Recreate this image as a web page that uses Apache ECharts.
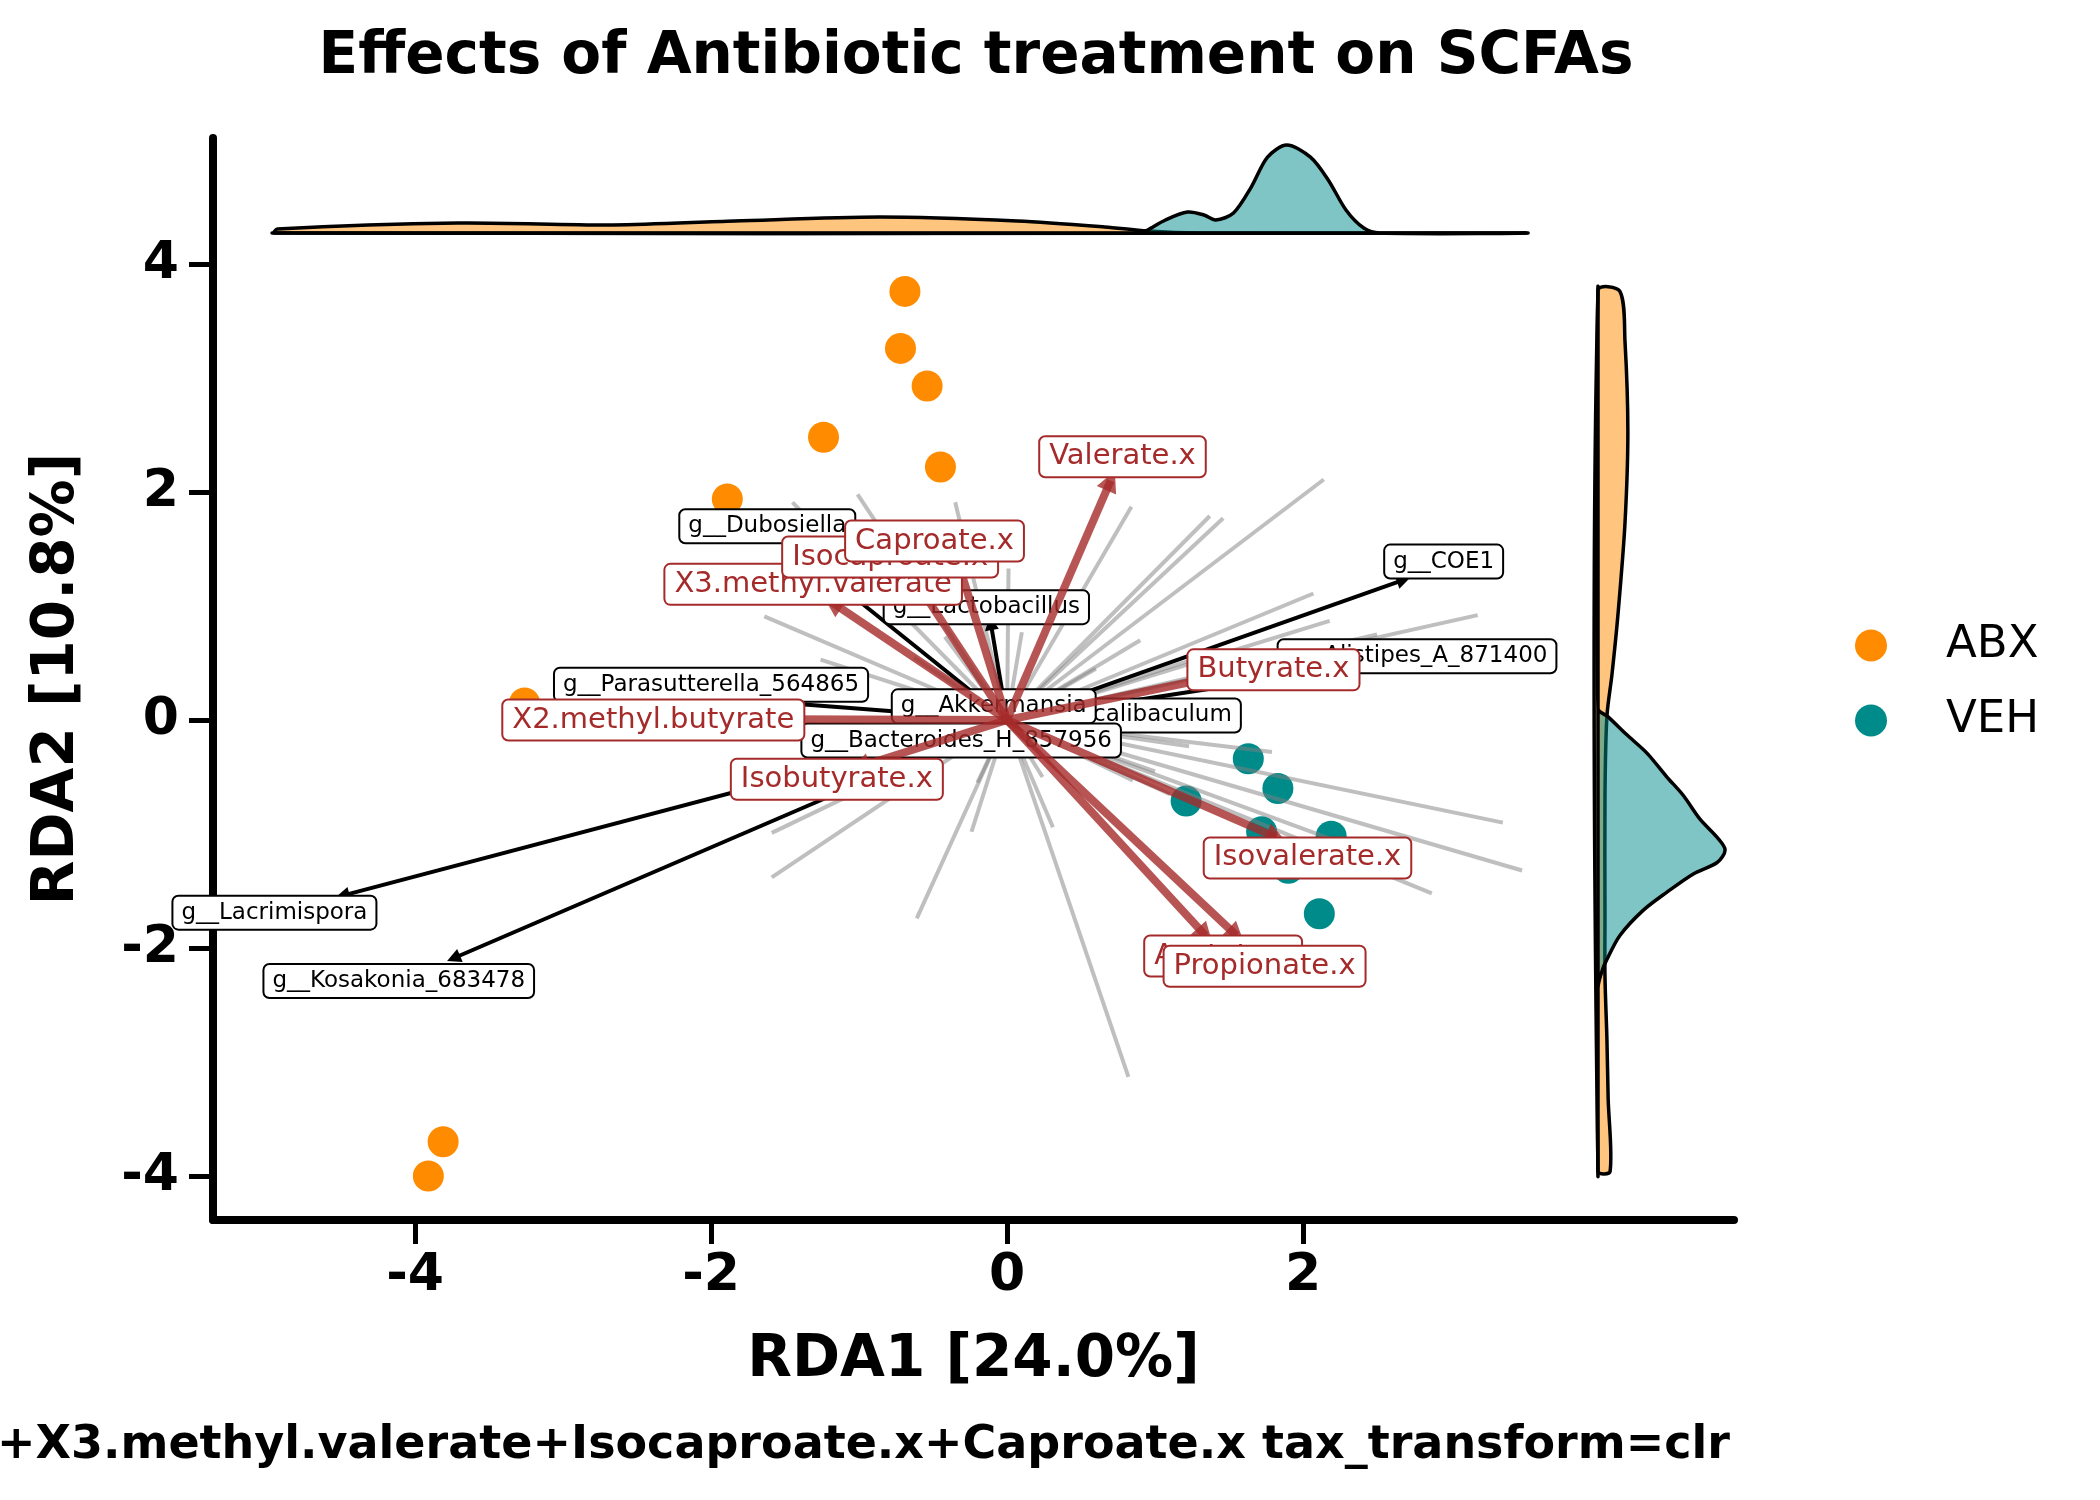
<!DOCTYPE html>
<html>
<head>
<meta charset="utf-8">
<script src="https://cdn.jsdelivr.net/npm/echarts/dist/echarts.min.js"></script>
<style>
  html, body { margin: 0; padding: 0; background: #fff; }
  #chart { width: 2100px; height: 1500px; }
</style>
</head>
<body>
<div id="chart"></div>
<script>
// sample scores (RDA1, RDA2)
var abxPoints = [[-0.69, 3.76], [-0.72, 3.26], [-0.54, 2.93], [-1.24, 2.48], [-0.45, 2.22],
  [-1.89, 1.94], [-3.26, 0.15], [-3.81, -3.70], [-3.91, -4.00]];
var vehPoints = [[1.63, -0.34], [1.83, -0.60], [1.21, -0.71], [1.72, -0.98], [2.19, -1.02],
  [1.90, -1.30], [2.11, -1.70]];

// SCFA (constraint) arrows
var scfaNames = ['Acetate.x', 'Propionate.x', 'Butyrate.x', 'Isobutyrate.x', 'Valerate.x',
  'Isovalerate.x', 'X2.methyl.butyrate', 'X3.methyl.valerate', 'Isocaproate.x', 'Caproate.x'];
var scfaTips = [[1.34, -1.89], [1.55, -1.89], [1.60, 0.43], [-1.00, -0.41], [0.70, 2.10],
  [1.82, -1.03], [-2.00, 0.01], [-1.18, 1.03], [-0.66, 1.30], [-0.33, 1.38]];
var scfaLabelAt = [[1.46, -2.07], [1.74, -2.16], [1.80, 0.44], [-1.15, -0.52], [0.78, 2.31],
  [2.03, -1.21], [-2.39, 0.00], [-1.31, 1.19], [-0.79, 1.43], [-0.49, 1.57]];

// labelled taxa arrows
var taxaNames = ['g__Faecalibaculum', 'g__COE1', 'g__Alistipes_A_871400', 'g__Lactobacillus',
  'g__Dubosiella', 'g__Parasutterella_564865', 'g__Akkermansia', 'g__Bacteroides_H_857956',
  'g__Lacrimispora', 'g__Kosakonia_683478'];
var taxaTips = [[0.50, 0.05], [2.68, 1.23], [1.90, 0.38], [-0.11, 0.85], [-1.15, 1.20],
  [-1.70, 0.17], [-0.05, 0.08], [-0.20, -0.10], [-4.49, -1.54], [-3.74, -2.09]];
var taxaLabelAt = [[0.79, 0.04], [2.95, 1.39], [2.77, 0.56], [-0.14, 0.99], [-1.62, 1.70],
  [-2.00, 0.31], [-0.09, 0.12], [-0.31, -0.18], [-4.95, -1.69], [-4.11, -2.29]];

// other taxa loadings (grey, unlabelled)
var greyTips = [[2.14, 2.11], [0.84, 1.87], [1.37, 1.79], [1.46, 1.77], [2.07, 1.11], [2.18, 0.87],
  [3.18, 0.92], [2.50, 0.75], [1.79, -0.28], [3.35, -0.90], [3.48, -1.32], [2.87, -1.52],
  [0.82, -3.13], [0.31, -0.94], [-0.24, -0.98], [-0.61, -1.74], [-1.59, -0.99], [-1.59, -1.38],
  [-1.26, 0.53], [-1.64, 0.91], [-1.45, 1.91], [-1.01, 1.98], [-0.35, 1.91], [0.01, 1.33],
  [0.10, 0.77], [0.24, -0.50], [-0.20, -0.55], [1.23, -0.23], [2.20, -1.05], [0.85, -0.53],
  [1.00, -0.45], [1.10, -0.65], [0.60, -0.35], [1.30, 0.55], [0.90, 0.70], [0.60, 0.45],
  [-0.63, 0.55], [-0.42, 0.73], [-0.50, -0.25]];

// marginal densities: top = [RDA1, density], right = [density, RDA2]
var topAbx = [[-4.95, 0], [-4.93, 0.026], [-3.71, 0.066], [-2.66, 0.053], [-1.84, 0.079],
  [-0.86, 0.105], [0.07, 0.079], [0.66, 0.04], [0.95, 0.013], [1.3, 0], [3.47, 0]];
var topVeh = [[-4.95, 0], [0.90, 0], [0.95, 0.02], [1.07, 0.086], [1.22, 0.138], [1.33, 0.119],
  [1.41, 0.086], [1.53, 0.132], [1.65, 0.303], [1.76, 0.50], [1.89, 0.58], [2.05, 0.50],
  [2.17, 0.35], [2.29, 0.152], [2.41, 0.033], [2.52, 0], [3.47, 0]];
var rightAbx = [[0, 3.77], [0.069, 3.76], [0.085, 3.32], [0.094, 2.53], [0.085, 1.73],
  [0.063, 0.93], [0.044, 0.40], [0.028, 0.03], [0.022, -0.66], [0.022, -1.73], [0.022, -2.25],
  [0.028, -2.79], [0.032, -3.32], [0.038, -3.96], [0, -3.96]];
var rightVeh = [[0, 3.77], [0, 0.10], [0.031, 0.03], [0.091, -0.13], [0.154, -0.29], [0.217, -0.50],
  [0.268, -0.66], [0.321, -0.87], [0.375, -1.03], [0.40, -1.14], [0.375, -1.25], [0.30, -1.35],
  [0.217, -1.51], [0.142, -1.67], [0.069, -1.89], [0.028, -2.10], [0.013, -2.20], [0, -2.35],
  [0, -3.96]];

var xTicks = [-4, -2, 0, 2];
var yTicks = [-4, -2, 0, 2, 4];

var formulaText = 'Acetate.x+Propionate.x+Butyrate.x+Isobutyrate.x+Valerate.x+Isovalerate.x+X2.methyl.butyrate+X3.methyl.valerate+Isocaproate.x+Caproate.x tax_transform=clr';

var FONT = 'DejaVu Sans';
var chart = echarts.init(document.getElementById('chart'));

function arrows(tips) {
  return tips.map(function (p) { return { coords: [[0, 0], p] }; });
}
function labelPoints(names, at) {
  return names.map(function (n, i) { return { name: n, value: at[i] }; });
}
function kde(points, fill) {
  return function (params, api) {
    var pts = points.map(function (p) { return api.coord(p); });
    return {
      type: 'polygon',
      shape: { points: pts, smooth: 0.3 },
      style: { fill: fill, stroke: '#000', lineWidth: 3.5 }
    };
  };
}

var tickLabel = { fontSize: 52, fontWeight: 'bold', color: '#000', fontFamily: FONT };
var nameStyle = { fontSize: 58, fontWeight: 'bold', color: '#000', fontFamily: FONT };

chart.setOption({
  animation: false,
  backgroundColor: '#fff',
  title: {
    text: 'Effects of Antibiotic treatment on SCFAs',
    left: 971, top: 24, textAlign: 'center',
    textStyle: nameStyle
  },
  legend: {
    data: ['ABX', 'VEH'],
    orient: 'vertical',
    left: 1850, top: 618,
    itemWidth: 32, itemHeight: 32, itemGap: 30,
    icon: 'circle',
    textStyle: { fontSize: 45, color: '#000', fontFamily: FONT, padding: [0, 0, 0, 54] }
  },
  grid: [
    { left: 213, top: 138, width: 1521, height: 1082 },   // frame (spines)
    { left: 213, top: 240, width: 1376, height: 980 },    // main
    { left: 213, top: 130, width: 1376, height: 110 },    // top marginal
    { left: 1589, top: 240, width: 145, height: 980 }     // right marginal
  ],
  xAxis: [
    {
      gridIndex: 0, type: 'value', min: 0, max: 1,
      axisLine: { show: true, onZero: false, lineStyle: { color: '#000', width: 8 } },
      axisTick: { show: false }, axisLabel: { show: false }, splitLine: { show: false },
      name: 'RDA1 [24.0%]', nameLocation: 'middle', nameGap: 112, nameTextStyle: nameStyle
    },
    {
      gridIndex: 1, type: 'value', min: -5.365, max: 3.932,
      axisLine: { show: false, onZero: false },
      axisTick: { show: true, customValues: xTicks, length: 24, lineStyle: { color: '#000', width: 5 } },
      axisLabel: { customValues: xTicks, margin: 30, formatter: function (v) { return String(v); } },
      splitLine: { show: false }
    },
    { gridIndex: 2, type: 'value', min: -5.365, max: 3.932, show: false },
    { gridIndex: 3, type: 'value', min: -0.0283, max: 0.428, show: false }
  ],
  yAxis: [
    {
      gridIndex: 0, type: 'value', min: 0, max: 1,
      axisLine: { show: true, onZero: false, lineStyle: { color: '#000', width: 8 } },
      axisTick: { show: false }, axisLabel: { show: false }, splitLine: { show: false },
      name: 'RDA2 [10.8%]', nameLocation: 'middle', nameGap: 126, nameTextStyle: nameStyle
    },
    {
      gridIndex: 1, type: 'value', min: -4.386, max: 4.211,
      axisLine: { show: false, onZero: false },
      axisTick: { show: true, customValues: yTicks, length: 24, lineStyle: { color: '#000', width: 5 } },
      axisLabel: { customValues: yTicks, margin: 34, formatter: function (v) { return String(v); } },
      splitLine: { show: false }
    },
    { gridIndex: 2, type: 'value', min: -0.046, max: 0.679, show: false },
    { gridIndex: 3, type: 'value', min: -4.386, max: 4.211, show: false }
  ],
  series: [
    {
      name: 'ABX', type: 'scatter', xAxisIndex: 1, yAxisIndex: 1, z: 2,
      symbolSize: 31, itemStyle: { color: '#ff8c00', opacity: 1 }, data: abxPoints
    },
    {
      name: 'VEH', type: 'scatter', xAxisIndex: 1, yAxisIndex: 1, z: 2,
      symbolSize: 31, itemStyle: { color: '#008b8b', opacity: 1 }, data: vehPoints
    },
    {
      type: 'lines', coordinateSystem: 'cartesian2d', xAxisIndex: 1, yAxisIndex: 1, z: 3,
      silent: true, symbol: 'none',
      lineStyle: { color: 'rgba(128,128,128,0.5)', width: 4, opacity: 1 },
      data: arrows(greyTips)
    },
    {
      type: 'lines', coordinateSystem: 'cartesian2d', xAxisIndex: 1, yAxisIndex: 1, z: 4,
      silent: true, symbol: ['none', 'triangle'], symbolSize: [11, 14],
      lineStyle: { color: '#000', width: 4, opacity: 1 },
      data: arrows(taxaTips)
    },
    {
      type: 'scatter', xAxisIndex: 1, yAxisIndex: 1, z: 5, silent: true,
      symbolSize: 0, itemStyle: { opacity: 1 },
      label: {
        show: true, position: 'inside', formatter: '{b}', opacity: 1,
        fontSize: 23, color: '#000', fontFamily: FONT, lineHeight: 26,
        backgroundColor: '#fff', borderColor: '#000', borderWidth: 2, borderRadius: 5,
        padding: [3, 8]
      },
      data: labelPoints(taxaNames, taxaLabelAt)
    },
    {
      type: 'lines', coordinateSystem: 'cartesian2d', xAxisIndex: 1, yAxisIndex: 1, z: 6,
      silent: true, symbol: ['none', 'triangle'], symbolSize: [18, 21],
      lineStyle: { color: 'rgba(165,42,42,0.8)', width: 8, opacity: 1 },
      data: arrows(scfaTips)
    },
    {
      type: 'scatter', xAxisIndex: 1, yAxisIndex: 1, z: 7, silent: true,
      symbolSize: 0, itemStyle: { opacity: 1 },
      label: {
        show: true, position: 'inside', formatter: '{b}', opacity: 1,
        fontSize: 29, color: '#a52a2a', fontFamily: FONT, lineHeight: 33,
        backgroundColor: '#fff', borderColor: '#a52a2a', borderWidth: 2, borderRadius: 5,
        padding: [3, 9]
      },
      data: labelPoints(scfaNames, scfaLabelAt)
    },
    {
      type: 'custom', xAxisIndex: 2, yAxisIndex: 2, silent: true, z: 2,
      renderItem: kde(topAbx, 'rgba(255,140,0,0.5)'), data: [[0, 0]]
    },
    {
      type: 'custom', xAxisIndex: 2, yAxisIndex: 2, silent: true, z: 2,
      renderItem: kde(topVeh, 'rgba(0,139,139,0.5)'), data: [[0, 0]]
    },
    {
      type: 'custom', xAxisIndex: 3, yAxisIndex: 3, silent: true, z: 2,
      renderItem: kde(rightAbx, 'rgba(255,140,0,0.5)'), data: [[0, 0]]
    },
    {
      type: 'custom', xAxisIndex: 3, yAxisIndex: 3, silent: true, z: 2,
      renderItem: kde(rightVeh, 'rgba(0,139,139,0.5)'), data: [[0, 0]]
    }
  ],
  graphic: [
    {
      type: 'text', x: 1730, y: 1446, silent: true,
      style: {
        text: formulaText, fill: '#000', align: 'right', verticalAlign: 'middle',
        font: 'bold 46px "DejaVu Sans"'
      }
    }
  ]
});
// tick label style shared by main axes
chart.setOption({
  xAxis: [{}, { axisLabel: tickLabel }],
  yAxis: [{}, { axisLabel: tickLabel }]
});
</script>
</body>
</html>
